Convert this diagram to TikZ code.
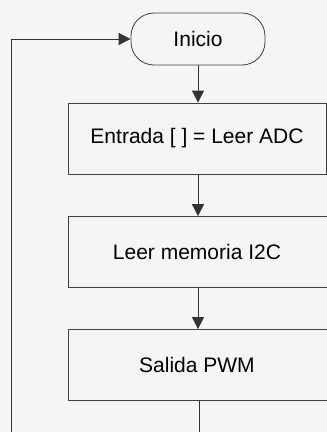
\documentclass[tikz,border=0pt]{standalone}
\usepackage{fontspec}
\setmainfont{Liberation Sans}
\usetikzlibrary{arrows.meta}

\begin{document}
\begin{tikzpicture}[x=1pt,y=-1pt,line cap=round,
  term/.style={draw=black!75,line width=.8pt,rounded corners=23pt,
    minimum width=134pt,minimum height=52pt,inner sep=0pt,font=\fontsize{21}{24}\selectfont},
  proc/.style={draw=black!75,line width=.8pt,minimum height=71pt,inner sep=0pt,
    font=\fontsize{21}{24}\selectfont},
  flow/.style={black!80,line width=.8pt,-{Triangle[length=12pt,width=12pt]}}]
  \fill[black!4] (0,0) rectangle (327,432);
  \useasboundingbox (0,0) rectangle (327,432);
  \node[term] (inicio) at (198,39) {Inicio};
  \node[proc,minimum width=258pt] (entrada) at (197,138.5) {Entrada [ ] = Leer ADC};
  \node[proc,minimum width=272pt] (leer) at (204,252) {\hspace*{-14pt}Leer memoria I2C};
  \node[proc,minimum width=272pt] (salida) at (204,365) {\hspace*{-14pt}Salida PWM};
  \coordinate (bajo) at (199,445);
  \coordinate (esq) at (11,445);
  % flujo principal
  \draw[flow] (inicio.south) -- (inicio.south |- entrada.north);
  \draw[flow] (inicio.south |- entrada.south) -- (inicio.south |- leer.north);
  \draw[flow] (inicio.south |- leer.south) -- (inicio.south |- salida.north);
  % retorno al inicio
  \draw[flow] (bajo |- salida.south) -- (bajo) -- (esq) |- (inicio.west);
\end{tikzpicture}
\end{document}
